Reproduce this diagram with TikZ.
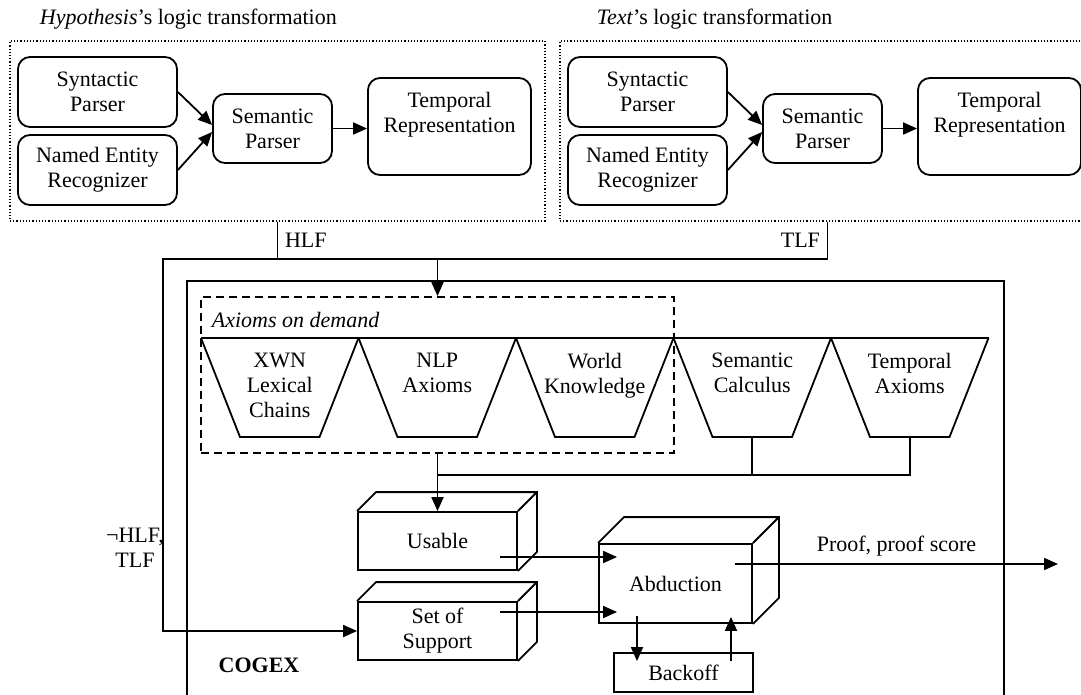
\documentclass[tikz,border=0pt]{standalone}
\usepackage{fontspec}
\setmainfont{Liberation Serif}
\usepackage{tikz}
\usetikzlibrary{shapes,arrows.meta,positioning,calc}

% top and right faces of a box node
\newcommand{\cubedepth}[2]{%
  \draw (#1.north west) -- ++(#2,#2) -| ([shift={(#2,#2)}]#1.south east) -- (#1.south east)
        (#1.north east) -- ++(#2,#2);}

\begin{document}
\begin{tikzpicture}[x=0.5pt, y=-0.5pt, line width=0.9pt,
    >={Triangle[length=7pt,width=6pt]},
    font=\fontsize{11}{12.5}\selectfont,
    group/.style={draw, densely dotted, line width=0.6pt, minimum width=267.5pt, minimum height=90pt},
    rbox/.style={draw, rounded corners=6pt, align=center, inner sep=0pt},
    sbox/.style={draw, fill=white, align=center, inner sep=0pt},
    plain/.style={inner sep=0pt, align=center}]
  \useasboundingbox (0,0) rectangle (1081,695);

  % the two logic transformations
  \foreach \g/\dx/\tx/\ttl in {hyp/0/39/{\textit{Hypothesis}’s logic transformation},
                               txt/550/46/{\textit{Text}’s logic transformation}} {
    \begin{scope}[xshift=\dx*0.5pt]
      \node[group] (\g) at (277.5,131) {};
      \node[plain, anchor=base west] (\g-title) at (\tx,25) {\ttl};
      \node[rbox, minimum width=79.5pt, minimum height=35pt] (\g-syn) at (97.5,92) {Syntactic\\Parser};
      \node[rbox, minimum width=79.5pt, minimum height=35pt] (\g-ner) at (97.5,170) {Named Entity\\Recognizer};
      \node[rbox, minimum width=59.5pt, minimum height=34.5pt] (\g-sem) at (272.5,128.5) {Semantic\\Parser};
      \node[rbox, minimum width=81.5pt, minimum height=48.5pt] (\g-tmp) at (449.5,126.5) {};
      \node[plain, anchor=north] (\g-tmplbl) at ([yshift=-7pt]\g-tmp.north) {Temporal\\Representation};
      \draw[->] (\g-syn.east) -- ([yshift=1.75pt]\g-sem.west);
      \draw[->] (\g-ner.east) -- ([yshift=-1.75pt]\g-sem.west);
      \draw[->] (\g-sem.east) -- (\g-sem.east -| \g-tmp.west);
    \end{scope}
  }

  % COGEX
  \node[draw, line width=1.3pt, minimum width=408.5pt, minimum height=219pt] (cogex) at (595.5,500) {};
  \node[font=\fontsize{11}{12.5}\selectfont\bfseries] (cogexlbl) at (259,665) {COGEX};

  \node[draw, dash pattern=on 4pt off 2.5pt, minimum width=236.5pt, minimum height=78pt] (ondemand) at (437.5,375) {};
  \node[plain, anchor=base west, font=\fontsize{11}{12.5}\selectfont\itshape] (ondemandlbl) at (211,328) {Axioms on demand};

  \draw (201,338) -- (989,338);
  \foreach \x/\nm/\txt in {201/xwn/{XWN\\Lexical\\Chains}, 358.5/nlp/{NLP\\Axioms},
                           516/world/{World\\Knowledge}, 673.5/semcalc/{Semantic\\Calculus},
                           831/tmpax/{Temporal\\Axioms}} {
    \draw (\x,338) -- (\x+39,437) -- (\x+118.5,437) -- (\x+157.5,338);
    \node[plain, anchor=north] (\nm) at (\x+78.75,352) {\txt};
    \coordinate (\nm-bot) at (\x+78.75,437);
  }

  \node[sbox, minimum width=79.5pt, minimum height=29pt] (usable) at (437.5,541) {Usable};
  \node[sbox, minimum width=79.5pt, minimum height=29pt] (sos) at (437.5,631) {Set of\\Support};
  \node[sbox, minimum width=76.5pt, minimum height=39.5pt] (abduction) at (675.5,583.5) {Abduction};
  \node[sbox, minimum width=69.5pt, minimum height=19.5pt] (backoff) at (683.5,672.5) {Backoff};
  \cubedepth{usable}{9.5pt}
  \cubedepth{sos}{9.5pt}
  \cubedepth{abduction}{13pt}

  % HLF / TLF bus
  \coordinate (bus) at (163,259);
  \draw (hyp.south) -- node[right] {HLF} (hyp.south |- bus);
  \draw[->] (txt.south) -- node[left] {TLF} (txt.south |- bus) -- (bus) |- (sos.west);
  \draw[->] (ondemand.north |- bus) -- (ondemand.north);
  \node[plain] (neglbl) at (135,548) {¬HLF,\\TLF};

  \coordinate (join) at (437.5,475);
  \draw (tmpax-bot) |- (join);
  \draw (semcalc-bot) -- (semcalc-bot |- join);
  \draw[->] (ondemand.south) -- (usable.north);

  \draw[->, shorten >=-9.5pt] ($(usable.center)+(62.5,16)$) coordinate (u) -- (u -| abduction.west);
  \draw[->, shorten >=-9.5pt] ($(sos.center)+(62.5,-19)$) coordinate (s) -- (s -| abduction.west);
  \draw[->] ($(abduction.south)+(-38.5,-8)$) -- ($(backoff.north)+(-46.5,9)$);
  \draw[->] ($(backoff.north)+(47.5,9)$) -- ($(abduction.south)+(55.5,-7)$);

  \coordinate (proofout) at (1058,564);
  \draw[->] ($(abduction.center)+(59.5,-19.5)$) coordinate (p) -- node[above] {Proof, proof score} (p -| proofout);
\end{tikzpicture}
\end{document}
